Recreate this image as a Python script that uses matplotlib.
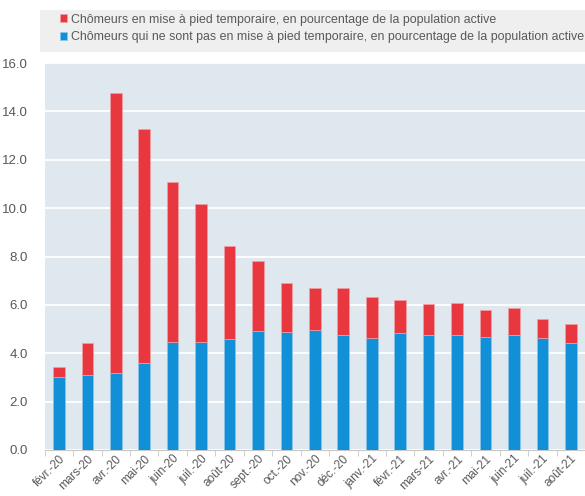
import matplotlib.pyplot as plt
from matplotlib.patches import Rectangle
import numpy as np

plt.rcParams['font.family'] = ['Liberation Sans Narrow', 'Liberation Sans', 'DejaVu Sans']

mois = ["févr.-20", "mars-20", "avr.-20", "mai-20", "juin-20", "juil.-20", "août-20",
        "sept.-20", "oct.-20", "nov.-20", "déc.-20", "janv.-21", "févr.-21", "mars-21",
        "avr.-21", "mai-21", "juin-21", "juil.-21", "août-21"]
# part des chomeurs qui ne sont pas en mise a pied temporaire
hors_mise_a_pied = [3.0, 3.1, 3.2, 3.6, 4.45, 4.45, 4.6, 4.93, 4.87, 4.97, 4.77, 4.64,
                    4.83, 4.77, 4.77, 4.68, 4.77, 4.64, 4.43]
# taux total
total = [3.44, 4.41, 14.76, 13.28, 11.1, 10.18, 8.45, 7.8, 6.9, 6.7, 6.7, 6.32,
         6.21, 6.02, 6.08, 5.79, 5.88, 5.42, 5.21]
mise_a_pied = [t - h for t, h in zip(total, hors_mise_a_pied)]

rouge = '#e8373f'
bleu = '#1190d8'
gris = '#595959'

fig = plt.figure(figsize=(5.85, 4.96), dpi=100)
ax = fig.add_axes([44.7 / 585, 1 - 450 / 496, (585 - 44.7) / 585, (450 - 63) / 496])
ax.set_facecolor('#dee8ee')

x = np.arange(len(mois))
b1 = ax.bar(x, hors_mise_a_pied, width=0.41, color=bleu, edgecolor='#8cc6ea', linewidth=0.5, zorder=3)
b2 = ax.bar(x, mise_a_pied, bottom=hors_mise_a_pied, width=0.41, color=rouge,
            edgecolor='#f0a0a5', linewidth=0.5, zorder=3)

ax.set_xlim(-0.5, len(mois) - 0.5)
ax.set_ylim(0, 16)
ax.set_yticks(np.arange(0, 16.1, 2))
ax.set_yticklabels([f"{v:.1f}" for v in np.arange(0, 16.1, 2)], fontsize=9.5, color=gris)
ax.grid(axis='y', color='white', linewidth=1.3, zorder=1)

ax.set_xticks(x)
ax.set_xticklabels(mois, rotation=45, ha='right', rotation_mode='anchor', fontsize=8.5, color=gris)
ax.set_xticks(np.arange(-0.5, len(mois), 1), minor=True)
ax.tick_params(axis='x', which='major', length=0, pad=2)
ax.tick_params(axis='x', which='minor', length=4, color='#c8c8c8')
ax.tick_params(axis='y', length=0, pad=12)

for s in ['top', 'right', 'left']:
    ax.spines[s].set_visible(False)
ax.spines['bottom'].set_color('#c8c8c8')

# fond gris de la legende
fig.patches.append(Rectangle((40 / 585, 1 - 52 / 496), 545 / 585, 42 / 496,
                             transform=fig.transFigure, facecolor='#efefef',
                             edgecolor='none', zorder=0))

leg = fig.legend([b2, b1],
                 ["Chômeurs en mise à pied temporaire, en pourcentage de la population active",
                  "Chômeurs qui ne sont pas en mise à pied temporaire, en pourcentage de la population active"],
                 loc='upper left', bbox_to_anchor=(56 / 585, 1 - 10 / 496),
                 fontsize=8.9, frameon=False,
                 handlelength=0.6, handleheight=0.6, handletextpad=0.3, labelspacing=0.45,
                 borderaxespad=0, borderpad=0.3)
for t in leg.get_texts():
    t.set_color(gris)

plt.savefig("out.png")
